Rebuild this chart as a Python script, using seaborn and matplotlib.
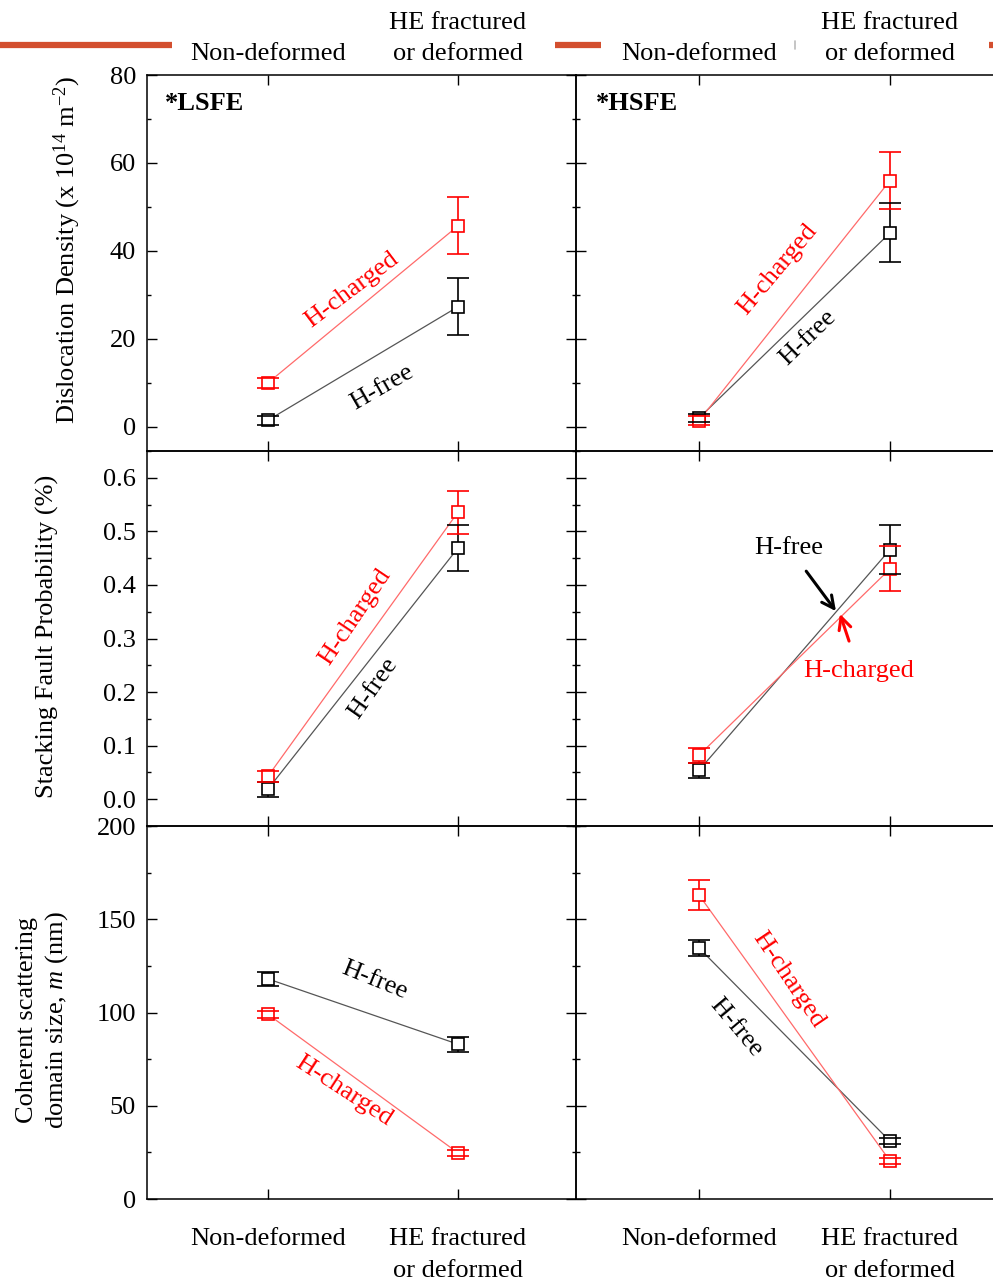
import numpy as np
import pandas as pd
import seaborn as sns
import matplotlib.pyplot as plt
from matplotlib.lines import Line2D
from matplotlib.ticker import MultipleLocator

sns.set_theme(style="ticks")
plt.rcParams['font.family'] = ['Liberation Serif', 'DejaVu Serif']
plt.rcParams['mathtext.fontset'] = 'custom'
plt.rcParams['mathtext.rm'] = 'Liberation Serif'
plt.rcParams['mathtext.it'] = 'Liberation Serif:italic'
plt.rcParams['mathtext.bf'] = 'Liberation Serif:bold'
plt.rcParams['text.color'] = 'black'
plt.rcParams['axes.labelcolor'] = 'black'
plt.rcParams['xtick.color'] = 'black'
plt.rcParams['ytick.color'] = 'black'

# ---- data -------------------------------------------------------------
categories = ["Non-deformed", "HE fractured\nor deformed"]
positions = [0, 1]

# dislocation density (x 10^14 m^-2)
dd_lsfe_free = [1.5, 27.3]
dd_lsfe_free_err = [1.0, 6.5]
dd_lsfe_chg = [10.0, 45.7]
dd_lsfe_chg_err = [1.1, 6.5]
dd_hsfe_free = [2.0, 44.1]
dd_hsfe_free_err = [1.0, 6.7]
dd_hsfe_chg = [1.4, 56.0]
dd_hsfe_chg_err = [1.0, 6.5]

# stacking fault probability (%)
sfp_lsfe_free = [0.019, 0.469]
sfp_lsfe_free_err = [0.014, 0.043]
sfp_lsfe_chg = [0.043, 0.536]
sfp_lsfe_chg_err = [0.010, 0.040]
sfp_hsfe_free = [0.054, 0.466]
sfp_hsfe_free_err = [0.014, 0.045]
sfp_hsfe_chg = [0.082, 0.430]
sfp_hsfe_chg_err = [0.014, 0.042]

# coherent scattering domain size (nm)
csd_lsfe_free = [118.0, 83.0]
csd_lsfe_free_err = [3.8, 4.0]
csd_lsfe_chg = [99.0, 24.7]
csd_lsfe_chg_err = [2.0, 1.5]
csd_hsfe_free = [134.6, 31.0]
csd_hsfe_free_err = [4.3, 1.5]
csd_hsfe_chg = [163.0, 20.4]
csd_hsfe_chg_err = [8.0, 1.5]

colors = {"H-free": "black", "H-charged": "#ff0000"}
line_colors = {"H-free": "#555555", "H-charged": "#ff6a6a"}

panels = [
    [(dd_lsfe_free, dd_lsfe_free_err, dd_lsfe_chg, dd_lsfe_chg_err),
     (dd_hsfe_free, dd_hsfe_free_err, dd_hsfe_chg, dd_hsfe_chg_err)],
    [(sfp_lsfe_free, sfp_lsfe_free_err, sfp_lsfe_chg, sfp_lsfe_chg_err),
     (sfp_hsfe_free, sfp_hsfe_free_err, sfp_hsfe_chg, sfp_hsfe_chg_err)],
    [(csd_lsfe_free, csd_lsfe_free_err, csd_lsfe_chg, csd_lsfe_chg_err),
     (csd_hsfe_free, csd_hsfe_free_err, csd_hsfe_chg, csd_hsfe_chg_err)],
]

row_ylims = [(-5.5, 80), (-0.05, 0.65), (0, 200)]
row_major = [20, 0.1, 50]
row_minor = [10, 0.05, 25]
row_fmt = ["{:.0f}", "{:.1f}", "{:.0f}"]

FS = 19
LS = 1.55  # line spacing of two-line category labels

# ---- figure -----------------------------------------------------------
W, H = 993, 1279
fig = plt.figure(figsize=(W / 100, H / 100), dpi=100)

col_left = [147 / W, 576 / W]
col_width = 429 / W
col_xlim = [(-0.637, 1.621), (-0.644, 1.602)]
row_top = [75, 451, 826]
row_bottom = [451, 826, 1199]

axes = [[None, None], [None, None], [None, None]]
for r in range(3):
    for c in range(2):
        y0 = 1 - row_bottom[r] / H
        h = (row_bottom[r] - row_top[r]) / H
        ax = fig.add_axes([col_left[c], y0, col_width, h])
        axes[r][c] = ax

        free, free_err, chg, chg_err = panels[r][c]
        df = pd.DataFrame({
            "pos": positions * 2,
            "value": list(free) + list(chg),
            "condition": ["H-free"] * 2 + ["H-charged"] * 2,
        })
        sns.lineplot(data=df, x="pos", y="value", hue="condition",
                     palette=line_colors, linewidth=0.9, legend=False,
                     ax=ax, zorder=2)
        for cond, vals, errs in (("H-free", free, free_err),
                                 ("H-charged", chg, chg_err)):
            col = colors[cond]
            eb = ax.errorbar(positions, vals, yerr=errs, fmt="none",
                             ecolor=col, elinewidth=1.2, capsize=8,
                             capthick=1.2, zorder=3)
            for cap in eb[1]:
                cap.set_zorder(5)
            ax.plot(positions, vals, "s", mfc="white", mec=col, ms=8.5,
                    mew=1.2, zorder=4)

        ax.set_xlim(*col_xlim[c])
        ax.set_ylim(*row_ylims[r])
        ax.set_xlabel("")
        ax.set_ylabel("")
        ax.set_xticks(positions)
        ax.set_xticklabels(categories, linespacing=LS)
        ax.yaxis.set_major_locator(MultipleLocator(row_major[r]))
        ax.yaxis.set_minor_locator(MultipleLocator(row_minor[r]))
        ax.set_yticks([t for t in ax.get_yticks()
                       if row_ylims[r][0] - 1e-9 <= t <= row_ylims[r][1] + 1e-9])
        ax.set_yticklabels([row_fmt[r].format(t) for t in ax.get_yticks()])
        ax.tick_params(which="both", direction="in", top=True, right=True,
                       bottom=True, left=True, color="black", width=1.0)
        ax.tick_params(which="major", length=7)
        ax.tick_params(which="minor", length=3)
        ax.tick_params(axis="y", labelsize=FS, pad=8, labelcolor="black",
                       labelleft=(c == 0))
        ax.tick_params(axis="x", labelsize=FS, labelcolor="black",
                       labelbottom=(r == 2), labeltop=(r == 0),
                       pad=(21 if r == 2 else 7))
        for t in ax.xaxis.get_major_ticks():
            t.label1.set_linespacing(LS)
            t.label2.set_linespacing(LS)
        for sp in ax.spines.values():
            sp.set_linewidth(1.1)
            sp.set_color("black")
        ax.set_facecolor("none")

# ---- panel titles -----------------------------------------------------
axes[0][0].text(0.042, 0.923, "*LSFE", transform=axes[0][0].transAxes,
                fontsize=FS, fontweight="bold", va="center", ha="left",
                color="black")
axes[0][1].text(0.047, 0.923, "*HSFE", transform=axes[0][1].transAxes,
                fontsize=FS, fontweight="bold", va="center", ha="left",
                color="black")

red = colors["H-charged"]

# ---- series labels ----------------------------------------------------
axes[0][0].text(0.442, 31.1, "H-charged", color=red, fontsize=FS,
                rotation=37, ha="center", va="center")
axes[0][0].text(0.60, 8.9, "H-free", color="black", fontsize=FS,
                rotation=30, ha="center", va="center")
axes[0][1].text(0.41, 35.7, "H-charged", color=red, fontsize=FS,
                rotation=50, ha="center", va="center")
axes[0][1].text(0.57, 20.2, "H-free", color="black", fontsize=FS,
                rotation=44, ha="center", va="center")

axes[1][0].text(0.458, 0.34, "H-charged", color=red, fontsize=FS,
                rotation=56, ha="center", va="center")
axes[1][0].text(0.553, 0.207, "H-free", color="black", fontsize=FS,
                rotation=55, ha="center", va="center")
axes[1][1].annotate("H-free", xy=(0.717, 0.351), xytext=(0.471, 0.469),
                    fontsize=FS, color="black", ha="center", va="center",
                    arrowprops=dict(arrowstyle="->", color="black", lw=2.2,
                                    shrinkA=8, shrinkB=0,
                                    mutation_scale=22))
axes[1][1].annotate("H-charged", xy=(0.738, 0.346), xytext=(0.838, 0.239),
                    fontsize=FS, color=red, ha="center", va="center",
                    arrowprops=dict(arrowstyle="->", color=red, lw=2.2,
                                    shrinkA=12, shrinkB=0,
                                    mutation_scale=22))

axes[2][0].text(0.558, 117.4, "H-free", color="black", fontsize=FS,
                rotation=-22, ha="center", va="center")
axes[2][0].text(0.40, 57.9, "H-charged", color=red, fontsize=FS,
                rotation=-33, ha="center", va="center")
axes[2][1].text(0.466, 117.4, "H-charged", color=red, fontsize=FS,
                rotation=-56, ha="center", va="center")
axes[2][1].text(0.194, 91.7, "H-free", color="black", fontsize=FS,
                rotation=-50, ha="center", va="center")

# ---- axis titles ------------------------------------------------------
fig.text(67 / W, 1 - 250 / H, "Dislocation Density (x 10$^{14}$ m$^{-2}$)",
         rotation=90, ha="center", va="center", fontsize=FS, color="black")
fig.text(47 / W, 1 - 636 / H, "Stacking Fault Probability (%)",
         rotation=90, ha="center", va="center", fontsize=FS, color="black")
fig.text(43 / W, 1 - 1020 / H,
         "Coherent scattering\ndomain size, $m$ (nm)",
         rotation=90, ha="center", va="center", fontsize=FS,
         multialignment="center", linespacing=1.25, color="black")

# ---- header rules -----------------------------------------------------
orange = "#d34f2f"
yh = 1 - 45 / H
for x0, x1 in ((0, 172), (555, 601), (989, 993)):
    fig.add_artist(Line2D([x0 / W, x1 / W], [yh, yh], color=orange,
                          lw=4.5, solid_capstyle="butt"))
fig.add_artist(Line2D([795 / W, 795 / W], [1 - 41 / H, 1 - 49 / H],
                      color="#bbbbbb", lw=1.2))

fig.savefig("out.png", dpi=100)
